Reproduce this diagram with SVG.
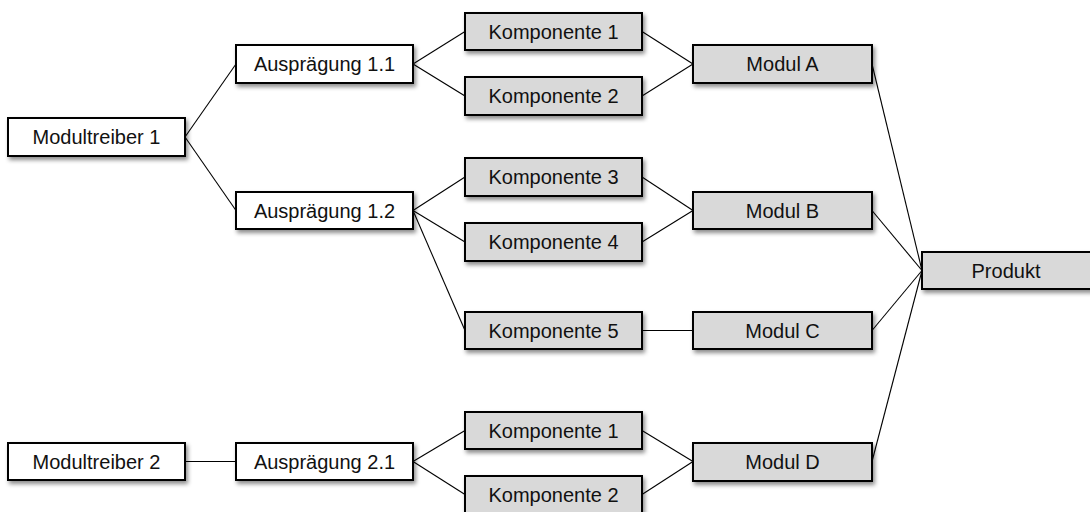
<svg xmlns="http://www.w3.org/2000/svg" width="1090" height="512" viewBox="0 0 1090 512">
<defs>
<filter id="sh" x="-10%" y="-30%" width="120%" height="170%">
<feDropShadow dx="2" dy="3" stdDeviation="2" flood-color="#000" flood-opacity="0.45"/>
</filter>
<style>
.w{fill:#ffffff;stroke:#000;stroke-width:2;filter:url(#sh)}
.g{fill:#d9d9d9;stroke:#000;stroke-width:2;filter:url(#sh)}
text{font-family:"Liberation Sans",Arial,sans-serif;font-size:20px;fill:#111;text-anchor:middle}
.c line{stroke:#000;stroke-width:1.1}
</style>
</defs>
<rect width="1090" height="512" fill="#fff"/>
<g class="c" id="connectors">
<line x1="185" y1="137" x2="236" y2="64"/>
<line x1="185" y1="137" x2="236" y2="210.5"/>
<line x1="413" y1="64" x2="465" y2="31.5"/>
<line x1="413" y1="64" x2="465" y2="96"/>
<line x1="642" y1="31.5" x2="693" y2="64"/>
<line x1="642" y1="96" x2="693" y2="64"/>
<line x1="413" y1="210.5" x2="465" y2="177"/>
<line x1="413" y1="210.5" x2="465" y2="242"/>
<line x1="413" y1="210.5" x2="465" y2="330.5"/>
<line x1="642" y1="177" x2="693" y2="210.5"/>
<line x1="642" y1="242" x2="693" y2="210.5"/>
<line x1="642" y1="330.5" x2="693" y2="330.5"/>
<line x1="872" y1="64" x2="922" y2="270.5"/>
<line x1="872" y1="210.5" x2="922" y2="270.5"/>
<line x1="872" y1="330.5" x2="922" y2="270.5"/>
<line x1="872" y1="461.5" x2="922" y2="270.5"/>
<line x1="185" y1="461.5" x2="236" y2="461.5"/>
<line x1="413" y1="461.5" x2="465" y2="430.5"/>
<line x1="413" y1="461.5" x2="465" y2="494.5"/>
<line x1="642" y1="430.5" x2="693" y2="461.5"/>
<line x1="642" y1="494.5" x2="693" y2="461.5"/>
</g>
<g id="modultreiber1"><rect class="w" x="8" y="118" width="177" height="38"/><text x="96.5" y="144">Modultreiber 1</text></g>
<g id="auspraegung11"><rect class="w" x="236" y="45" width="177" height="38"/><text x="324.5" y="71">Ausprägung 1.1</text></g>
<g id="auspraegung12"><rect class="w" x="236" y="192" width="177" height="37"/><text x="324.5" y="217.5">Ausprägung 1.2</text></g>
<g id="komponente1a"><rect class="g" x="465" y="13" width="177" height="37"/><text x="553.5" y="38.5">Komponente 1</text></g>
<g id="komponente2a"><rect class="g" x="465" y="77" width="177" height="38"/><text x="553.5" y="103">Komponente 2</text></g>
<g id="komponente3"><rect class="g" x="465" y="158" width="177" height="38"/><text x="553.5" y="184">Komponente 3</text></g>
<g id="komponente4"><rect class="g" x="465" y="223" width="177" height="38"/><text x="553.5" y="249">Komponente 4</text></g>
<g id="komponente5"><rect class="g" x="465" y="312" width="177" height="37"/><text x="553.5" y="337.5">Komponente 5</text></g>
<g id="modulA"><rect class="g" x="693" y="45" width="179" height="38"/><text x="782.5" y="71">Modul A</text></g>
<g id="modulB"><rect class="g" x="693" y="192" width="179" height="37"/><text x="782.5" y="217.5">Modul B</text></g>
<g id="modulC"><rect class="g" x="693" y="312" width="179" height="37"/><text x="782.5" y="337.5">Modul C</text></g>
<g id="produkt"><rect class="g" x="922" y="252" width="179" height="37"/><text x="1006" y="277.5">Produkt</text></g>
<g id="modultreiber2"><rect class="w" x="8" y="443" width="177" height="37"/><text x="96.5" y="468.5">Modultreiber 2</text></g>
<g id="auspraegung21"><rect class="w" x="236" y="443" width="177" height="37"/><text x="324.5" y="468.5">Ausprägung 2.1</text></g>
<g id="komponente1b"><rect class="g" x="465" y="412" width="177" height="37"/><text x="553.5" y="437.5">Komponente 1</text></g>
<g id="komponente2b"><rect class="g" x="465" y="476" width="177" height="38"/><text x="553.5" y="502">Komponente 2</text></g>
<g id="modulD"><rect class="g" x="693" y="443" width="179" height="38"/><text x="782.5" y="469">Modul D</text></g>
</svg>
